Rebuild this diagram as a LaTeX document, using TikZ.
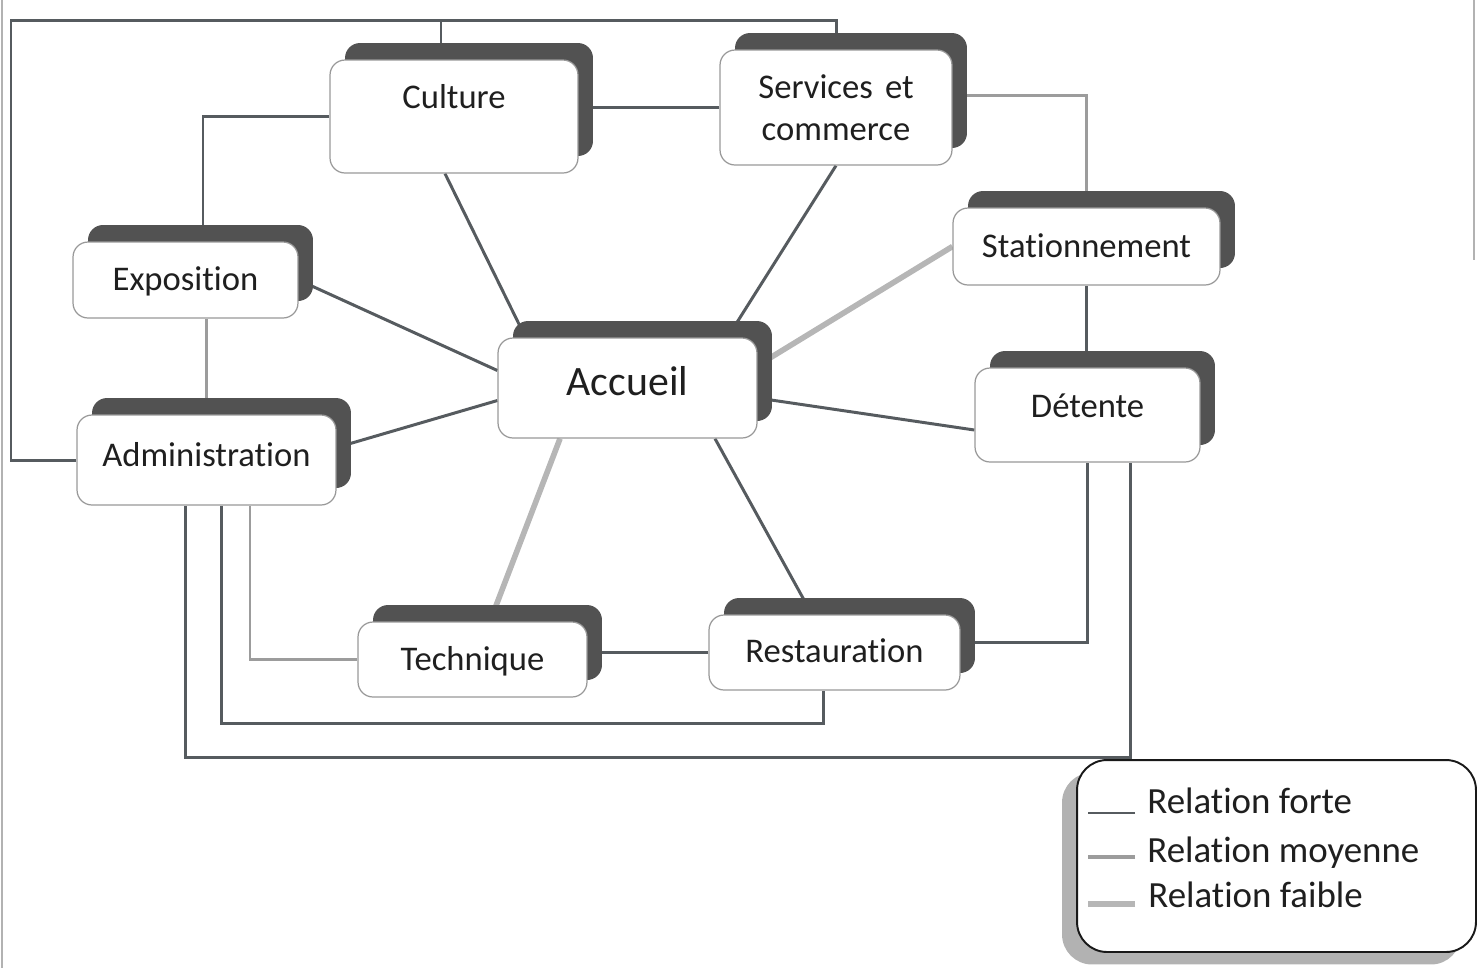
\documentclass[tikz,border=0pt]{standalone}
\usepackage{fontspec}
\setmainfont{Carlito}[RawFeature={-liga;-clig;-calt;-dlig}]
\usetikzlibrary{shadows,backgrounds}

\definecolor{gFort}{HTML}{565B5F}
\definecolor{gMoyen}{HTML}{9C9C9C}
\definecolor{gFaible}{HTML}{B6B6B6}

\begin{document}
\begin{tikzpicture}[x=0.02cm, y=-0.02cm,
    boite/.style={draw=black!40, line width=0.7pt, fill=white, rounded corners=0.3cm,
        inner sep=0pt, text=black!88, font=\fontsize{19.7}{24}\selectfont,
        general shadow={fill=black!68, shadow xshift=0.3cm, shadow yshift=0.34cm}},
    legende/.style={draw=black!90, line width=1.1pt, fill=white, rounded corners=0.6cm,
        general shadow={fill=black!30, shadow xshift=-0.3cm, shadow yshift=-0.25cm}},
    legtxt/.style={inner sep=0pt, anchor=base west, text=black!88, font=\fontsize{21}{25}\selectfont},
    forte/.style={draw=gFort, line width=1.7pt},
    moyenne/.style={draw=gMoyen, line width=1.7pt},
    faible/.style={draw=gFaible, line width=3.2pt}]

    \useasboundingbox (0,0) rectangle (1477,968);

    % Page edges of the scan
    \draw[black!30, line width=0.6pt] (2,0) -- (2,968);
    \draw[black!30, line width=0.8pt] (1474,0) -- (1474,260);

    % Spaces
    \node[boite, minimum width=4.96cm, text height=0.96cm, text depth=1.30cm] (culture) at (454,116.5) {Culture};
    \node[boite, minimum width=4.64cm, minimum height=2.3cm, align=center] (services) at (836,107.5) {Services\hspace{0.35em}et\\commerce};
    \node[boite, minimum width=5.34cm, text height=0.98cm, text depth=0.56cm] (station) at (1086.5,246.5) {Stationnement};
    \node[boite, minimum width=4.5cm, text height=0.96cm, text depth=0.56cm] (expo) at (185.5,280) {Exposition};
    \node[boite, minimum width=5.18cm, text height=1.14cm, text depth=0.86cm, font=\fontsize{23.8}{28}\selectfont] (accueil) at (627.5,388) {Accueil};
    \node[boite, minimum width=4.5cm, text height=0.98cm, text depth=0.9cm] (detente) at (1087.5,415) {Détente};
    \node[boite, minimum width=5.18cm, text height=1.02cm, text depth=0.78cm] (admin) at (206.5,460) {Administration};
    \node[boite, minimum width=4.58cm, text height=0.96cm, text depth=0.54cm] (technique) at (472.5,659.5) {Technique};
    \node[boite, minimum width=5.02cm, text height=0.94cm, text depth=0.56cm] (resto) at (834.5,652.5) {Restauration};

    % Relations
    \begin{scope}[on background layer]
        \draw[forte] (culture.west) -| ([xshift=0.35cm]expo.north);
        \draw[forte] (services.west) -- (services.west -| culture.east);
        \draw[forte] ([xshift=-0.18cm]culture.south) -- ([xshift=-2.04cm]accueil.north);
        \draw[forte] (services.south) -- ([xshift=2cm]accueil.north);
        \draw[moyenne] ([yshift=0.25cm]services.east) -| (station.north);
        \draw[faible] (station.west) -- ([yshift=0.45cm]accueil.east);
        \draw[forte] (station.south) -- (station.south |- detente.north);
        \draw[forte] (expo.east) -- ([yshift=0.35cm]accueil.west);
        \draw[moyenne] ([xshift=0.42cm]expo.south) -- ([xshift=0.42cm]expo.south |- admin.north);
        \draw[forte] ([yshift=-0.25cm]accueil.west) -- ([yshift=0.25cm]admin.east);
        \draw[forte] ([yshift=-0.2cm]accueil.east) -- ([yshift=-0.3cm]detente.west);
        \draw[faible] ([xshift=-1.35cm]accueil.south) -- ([xshift=0.35cm]technique.north);
        \draw[forte] ([xshift=1.75cm]accueil.south) -- ([xshift=-0.45cm]resto.north);
        \draw[forte] (resto.west) -- (resto.west -| technique.east);
        \draw[forte] ([yshift=0.2cm]resto.east) -| (detente.south);
        \draw[moyenne] ([xshift=0.87cm]admin.south) |- (technique.west);
        \draw[forte] ([xshift=0.3cm]admin.south) -- ++(0,218) -| ([xshift=-0.23cm]resto.south);
        \draw[forte] ([xshift=-0.43cm]admin.south) -- ++(0,252) -| ([xshift=0.85cm]detente.south);

        % Long loop over the top
        \coordinate (coinG) at (11,20);
        \coordinate (coinD) at (836,20);
        \coordinate (bif) at (441,20);
        \draw[forte] (admin.west) -| (coinG) -- (coinD) -- (services.north);
        \draw[forte] (bif) -- (bif |- culture.north);
    \end{scope}

    % Legend
    \node[legende, minimum width=7.98cm, minimum height=3.84cm] (leg) at (1276.5,856) {};
    \node[legtxt] (lforte) at (1147,813) {Relation forte};
    \node[legtxt] (lmoy) at (1147,862) {Relation moyenne};
    \node[legtxt] (lfaible) at (1148,907) {Relation faible};
    \draw[forte, line width=1.1pt] ([xshift=-0.24cm]lforte.base west) -- ++(-47,0);
    \draw[moyenne, line width=1.8pt] ([xshift=-0.24cm, yshift=0.1cm]lmoy.base west) -- ++(-47,0);
    \draw[faible, line width=3pt] ([xshift=-0.26cm, yshift=0.06cm]lfaible.base west) -- ++(-47,0);

\end{tikzpicture}
\end{document}
